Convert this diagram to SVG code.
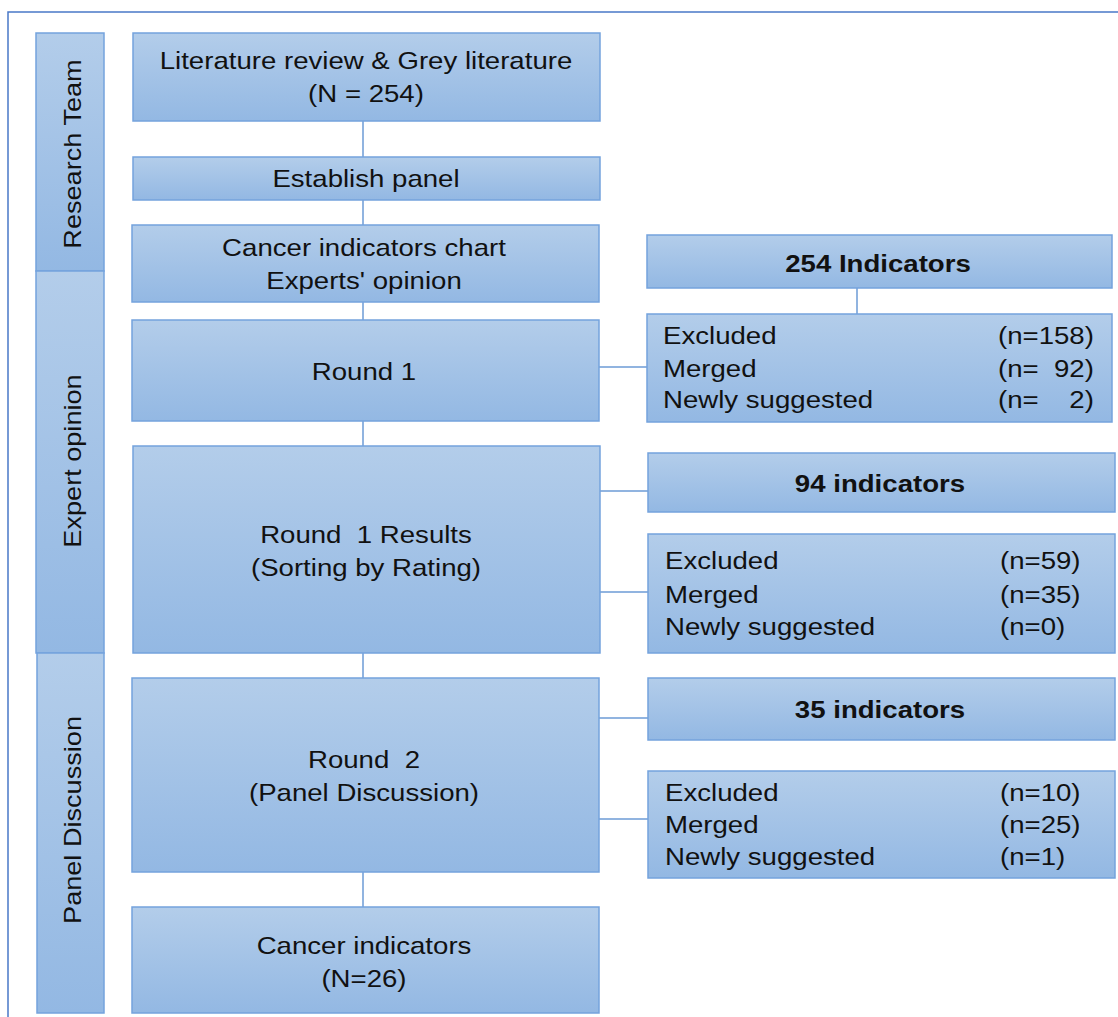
<svg xmlns="http://www.w3.org/2000/svg" width="1118" height="1017" viewBox="0 0 1118 1017">
<defs>
<linearGradient id="g" x1="0" y1="0" x2="0" y2="1">
<stop offset="0" stop-color="#b3cdea"/>
<stop offset="1" stop-color="#93b8e3"/>
</linearGradient>
<style>
.box{fill:url(#g);stroke:#74a3dd;stroke-width:1.5}
.t{font-family:"Liberation Sans",Arial,sans-serif;font-size:24px;fill:#111;text-anchor:middle;transform-box:fill-box;transform-origin:center;transform:scaleX(1.15)}
.r{font-family:"Liberation Sans",Arial,sans-serif;font-size:24px;fill:#111;text-anchor:middle}
.b{font-weight:bold}
.l{font-family:"Liberation Sans",Arial,sans-serif;font-size:24px;fill:#111;white-space:pre;transform-box:fill-box;transform-origin:left center;transform:scaleX(1.15)}
.c{stroke:#6d9bd6;stroke-width:1.5;fill:none}
</style>
</defs>
<rect x="0" y="0" width="1118" height="1017" fill="#fff"/>
<rect x="8" y="12" width="1130" height="1030" fill="none" stroke="#4a78c8" stroke-width="1.5"/>

<g id="lane-research">
<rect class="box" x="36" y="33" width="68" height="238"/>
<text class="r" transform="translate(81,154) rotate(-90) scale(1.13,1)">Research Team</text>
</g>
<g id="lane-expert">
<rect class="box" x="36" y="271" width="68" height="382"/>
<text class="r" transform="translate(81,461) rotate(-90) scale(1.13,1)">Expert opinion</text>
</g>
<g id="lane-panel">
<rect class="box" x="37" y="653" width="67" height="360"/>
<text class="r" transform="translate(81,820) rotate(-90) scale(1.13,1)">Panel Discussion</text>
</g>

<g id="connectors">
<line class="c" x1="363" y1="121" x2="363" y2="157"/>
<line class="c" x1="363" y1="200" x2="363" y2="225"/>
<line class="c" x1="363" y1="302" x2="363" y2="320"/>
<line class="c" x1="363" y1="421" x2="363" y2="446"/>
<line class="c" x1="363" y1="653" x2="363" y2="678"/>
<line class="c" x1="363" y1="872" x2="363" y2="907"/>
<line class="c" x1="857" y1="288" x2="857" y2="314"/>
<line class="c" x1="599" y1="367" x2="647" y2="367"/>
<line class="c" x1="600" y1="491" x2="648" y2="491"/>
<line class="c" x1="600" y1="592" x2="648" y2="592"/>
<line class="c" x1="599" y1="718" x2="648" y2="718"/>
<line class="c" x1="599" y1="819" x2="648" y2="819"/>
</g>

<g id="literature">
<rect class="box" x="133" y="33" width="467" height="88"/>
<text class="t" x="366" y="69">Literature review &amp; Grey literature</text>
<text class="t" x="366" y="102">(N = 254)</text>
</g>
<g id="establish">
<rect class="box" x="133" y="157" width="467" height="43"/>
<text class="t" x="366" y="187">Establish panel</text>
</g>
<g id="chart">
<rect class="box" x="132" y="225" width="467" height="77"/>
<text class="t" x="364" y="256">Cancer indicators chart</text>
<text class="t" x="364" y="289">Experts' opinion</text>
</g>
<g id="round1">
<rect class="box" x="132" y="320" width="467" height="101"/>
<text class="t" x="364" y="380">Round 1</text>
</g>
<g id="round1-results">
<rect class="box" x="133" y="446" width="467" height="207"/>
<text class="t" x="366" y="543" style="white-space:pre">Round  1 Results</text>
<text class="t" x="366" y="576">(Sorting by Rating)</text>
</g>
<g id="round2">
<rect class="box" x="132" y="678" width="467" height="194"/>
<text class="t" x="364" y="768" style="white-space:pre">Round  2</text>
<text class="t" x="364" y="801">(Panel Discussion)</text>
</g>
<g id="final">
<rect class="box" x="132" y="907" width="467" height="106"/>
<text class="t" x="364" y="954">Cancer indicators</text>
<text class="t" x="364" y="987">(N=26)</text>
</g>

<g id="ind254">
<rect class="box" x="647" y="235" width="465" height="53"/>
<text class="t b" x="878" y="272">254 Indicators</text>
</g>
<g id="res1">
<rect class="box" x="647" y="314" width="465" height="108"/>
<text class="l" x="663" y="344">Excluded</text>
<text class="l" x="663" y="377">Merged</text>
<text class="l" x="663" y="408">Newly suggested</text>
<text class="l" x="998" y="344">(n=158)</text>
<text class="l" x="998" y="377">(n=  92)</text>
<text class="l" x="998" y="408">(n=    2)</text>
</g>
<g id="ind94">
<rect class="box" x="648" y="453" width="467" height="59"/>
<text class="t b" x="880" y="492">94 indicators</text>
</g>
<g id="res2">
<rect class="box" x="648" y="534" width="467" height="119"/>
<text class="l" x="665" y="569">Excluded</text>
<text class="l" x="665" y="603">Merged</text>
<text class="l" x="665" y="635">Newly suggested</text>
<text class="l" x="1000" y="569">(n=59)</text>
<text class="l" x="1000" y="603">(n=35)</text>
<text class="l" x="1000" y="635">(n=0)</text>
</g>
<g id="ind35">
<rect class="box" x="648" y="678" width="467" height="62"/>
<text class="t b" x="880" y="718">35 indicators</text>
</g>
<g id="res3">
<rect class="box" x="648" y="771" width="467" height="107"/>
<text class="l" x="665" y="801">Excluded</text>
<text class="l" x="665" y="833">Merged</text>
<text class="l" x="665" y="865">Newly suggested</text>
<text class="l" x="1000" y="801">(n=10)</text>
<text class="l" x="1000" y="833">(n=25)</text>
<text class="l" x="1000" y="865">(n=1)</text>
</g>
</svg>
